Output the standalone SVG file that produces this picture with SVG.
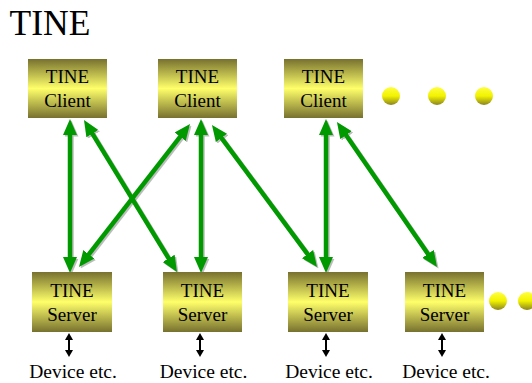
<svg xmlns="http://www.w3.org/2000/svg" width="532" height="383" viewBox="0 0 532 383">
  <style>
    .box { fill: url(#boxGrad); }
    .lbl { font-family: "Liberation Serif", "Times New Roman", serif; font-size: 19px; fill: #000; text-anchor: middle; }
    .dev { font-family: "Liberation Serif", "Times New Roman", serif; font-size: 19.5px; fill: #000; text-anchor: middle; }
    .title { font-family: "Liberation Serif", "Times New Roman", serif; font-size: 35.5px; fill: #000; }
    .link { stroke: #009900; stroke-width: 4.5; fill: none; marker-start: url(#headG); marker-end: url(#headG); }
    .shadow { stroke: #a0a0a0; stroke-width: 4.5; fill: none; opacity: 0.7; marker-start: url(#headS); marker-end: url(#headS); }
    .io { stroke: #000; stroke-width: 2; fill: none; marker-start: url(#headK); marker-end: url(#headK); }
    .dot { fill: url(#dotGrad); }
  </style>
  <defs>
    <linearGradient id="boxGrad" x1="0" y1="0" x2="0" y2="1">
      <stop offset="0" stop-color="#77712f"/>
      <stop offset="0.5" stop-color="#ffff6a"/>
      <stop offset="1" stop-color="#77712f"/>
    </linearGradient>
    <linearGradient id="dotGrad" x1="0" y1="0" x2="0" y2="1">
      <stop offset="0" stop-color="#ffff40"/>
      <stop offset="0.5" stop-color="#f2f200"/>
      <stop offset="1" stop-color="#8a8420"/>
    </linearGradient>
    <marker id="headG" viewBox="0 -7 16 14" refX="2" refY="0" markerWidth="16" markerHeight="14" markerUnits="userSpaceOnUse" orient="auto-start-reverse">
      <path d="M0,-7 L16,0 L0,7 z" fill="#009900"/>
    </marker>
    <marker id="headS" viewBox="0 -7 16 14" refX="2" refY="0" markerWidth="16" markerHeight="14" markerUnits="userSpaceOnUse" orient="auto-start-reverse">
      <path d="M0,-7 L16,0 L0,7 z" fill="#a0a0a0"/>
    </marker>
    <marker id="headK" viewBox="0 -4 7 8" refX="1" refY="0" markerWidth="7" markerHeight="8" markerUnits="userSpaceOnUse" orient="auto-start-reverse">
      <path d="M0,-4 L7,0 L0,4 z" fill="#000"/>
    </marker>
  </defs>

  <rect width="532" height="383" fill="#fff"/>

  <text class="title" x="9.5" y="35">TINE</text>

  <!-- client/server links (drop shadow first, then green) -->
  <g id="connectors">
    <g transform="translate(1.5,1.5)">
      <path class="shadow" d="M70,133 L70,259"/>
      <path class="shadow" d="M91.3,131.9 L169.7,260.1"/>
      <path class="shadow" d="M181.4,135.1 L87.6,255.9"/>
      <path class="shadow" d="M201,133 L201,259"/>
      <path class="shadow" d="M220.3,136.3 L308.7,255.7"/>
      <path class="shadow" d="M326,133 L326,259"/>
      <path class="shadow" d="M344.9,133.5 L429.1,255.5"/>
    </g>
    <path class="link" d="M70,133 L70,259"/>
    <path class="link" d="M91.3,131.9 L169.7,260.1"/>
    <path class="link" d="M181.4,135.1 L87.6,255.9"/>
    <path class="link" d="M201,133 L201,259"/>
    <path class="link" d="M220.3,136.3 L308.7,255.7"/>
    <path class="link" d="M326,133 L326,259"/>
    <path class="link" d="M344.9,133.5 L429.1,255.5"/>

    <!-- server to device -->
    <path class="io" d="M69,339 L69,351"/>
    <path class="io" d="M200,339 L200,351"/>
    <path class="io" d="M326,339 L326,351"/>
    <path class="io" d="M442,339 L442,351"/>
  </g>

  <!-- clients -->
  <g id="client1">
    <rect class="box" x="28" y="59" width="79" height="59"/>
    <text class="lbl" x="67.5" y="83">TINE</text>
    <text class="lbl" x="67.5" y="107">Client</text>
  </g>
  <g id="client2">
    <rect class="box" x="158" y="59" width="79" height="59"/>
    <text class="lbl" x="197.5" y="83">TINE</text>
    <text class="lbl" x="197.5" y="107">Client</text>
  </g>
  <g id="client3">
    <rect class="box" x="284" y="59" width="79" height="59"/>
    <text class="lbl" x="323.5" y="83">TINE</text>
    <text class="lbl" x="323.5" y="107">Client</text>
  </g>
  <g id="client-more">
    <circle class="dot" cx="391" cy="96" r="9"/>
    <circle class="dot" cx="437" cy="96" r="9"/>
    <circle class="dot" cx="484" cy="96" r="9"/>
  </g>

  <!-- servers -->
  <g id="server1">
    <rect class="box" x="32" y="272" width="80" height="60"/>
    <text class="lbl" x="72" y="297">TINE</text>
    <text class="lbl" x="72" y="321">Server</text>
  </g>
  <g id="server2">
    <rect class="box" x="163" y="272" width="79" height="60"/>
    <text class="lbl" x="202.5" y="297">TINE</text>
    <text class="lbl" x="202.5" y="321">Server</text>
  </g>
  <g id="server3">
    <rect class="box" x="288" y="272" width="80" height="60"/>
    <text class="lbl" x="328" y="297">TINE</text>
    <text class="lbl" x="328" y="321">Server</text>
  </g>
  <g id="server4">
    <rect class="box" x="405" y="272" width="79" height="60"/>
    <text class="lbl" x="444.5" y="297">TINE</text>
    <text class="lbl" x="444.5" y="321">Server</text>
  </g>
  <g id="server-more">
    <circle class="dot" cx="498" cy="301" r="9"/>
    <circle class="dot" cx="527" cy="301" r="9"/>
  </g>

  <!-- devices -->
  <g id="devices">
    <text class="dev" x="73" y="378">Device etc.</text>
    <text class="dev" x="203.5" y="378">Device etc.</text>
    <text class="dev" x="329" y="378">Device etc.</text>
    <text class="dev" x="446" y="378">Device etc.</text>
  </g>
</svg>
